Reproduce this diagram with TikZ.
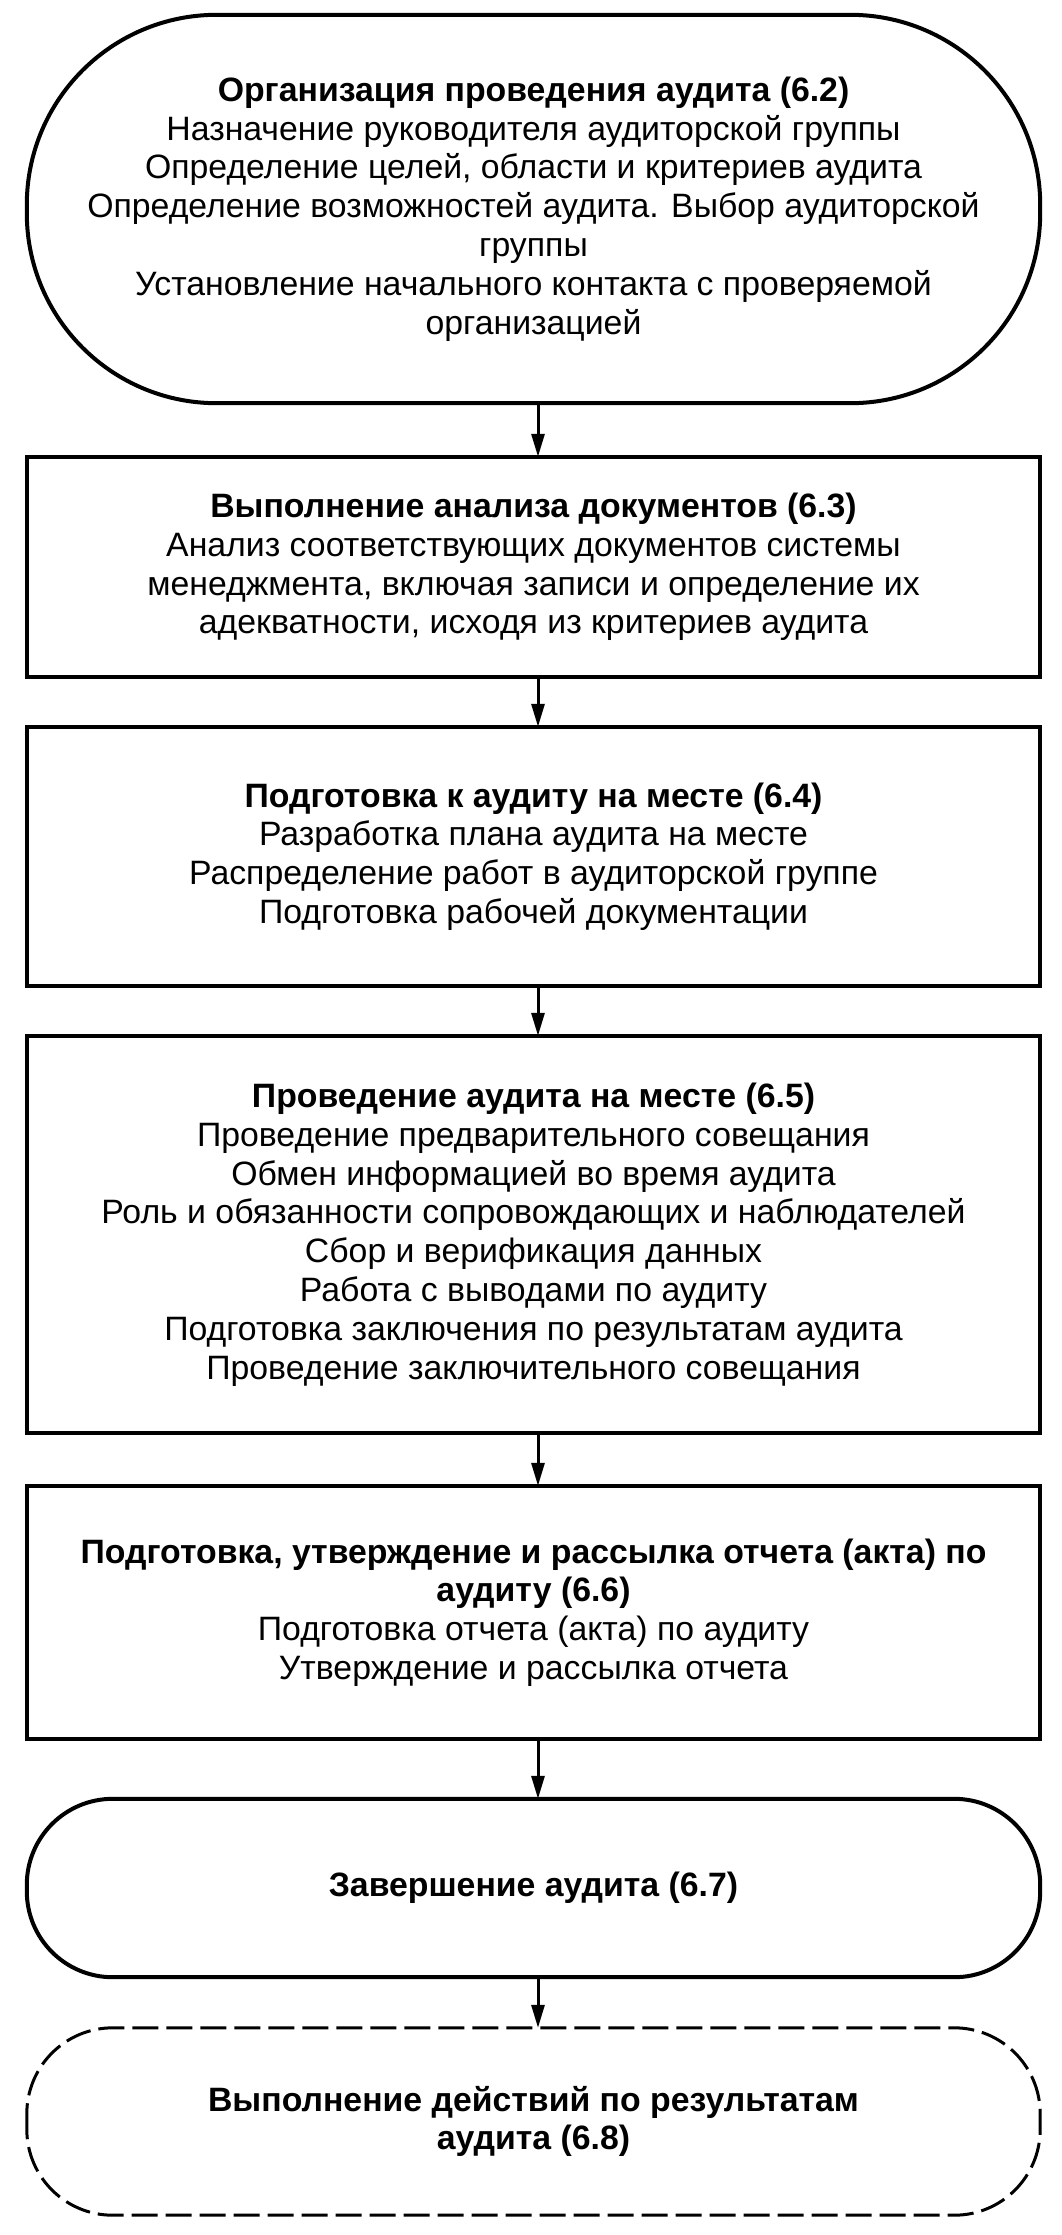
\documentclass[tikz,border=0pt]{standalone}
\usepackage{fontspec}
\setmainfont{Liberation Sans}
\usetikzlibrary{arrows.meta}
\begin{document}
\begin{tikzpicture}[x=1pt,y=1pt,
  txt/.style={rectangle, inner sep=0pt, minimum width=1013pt, align=center,
    font=\fontsize{33.8}{38.8}\selectfont},
  boxline/.style={line width=4.5pt},
  stadline/.style={line width=4pt},
  dashline/.style={line width=3pt, dash pattern=on 26pt off 8pt},
  arr/.style={line width=3pt, -{Triangle[length=23pt,width=13pt]}}
]
\useasboundingbox (0,0) rectangle (1062,-2235);

\node[txt, minimum height=388pt] (n1) at (533.5,-209) {%
\textbf{Организация проведения аудита (6.2)}\\
Назначение руководителя аудиторской группы\\
Определение целей, области и критериев аудита\\
Определение возможностей аудита. Выбор аудиторской\\
группы\\
Установление начального контакта с проверяемой\\
организацией};
\draw[stadline, rounded corners=190pt] (n1.south west) rectangle (n1.north east);

\node[txt, minimum height=220pt] (n2) at (533.5,-567) {%
\textbf{Выполнение анализа документов (6.3)}\\
Анализ соответствующих документов системы\\
менеджмента, включая записи и определение их\\
адекватности, исходя из критериев аудита};
\draw[boxline] (n2.south west) rectangle (n2.north east);

\node[txt, minimum height=259pt] (n3) at (533.5,-856.5) {%
\textbf{Подготовка к аудиту на месте (6.4)}\\
Разработка плана аудита на месте\\
Распределение работ в аудиторской группе\\
Подготовка рабочей документации};
\draw[boxline] (n3.south west) rectangle (n3.north east);

\node[txt, minimum height=397pt] (n4) at (533.5,-1234.5) {%
\textbf{Проведение аудита на месте (6.5)}\\
Проведение предварительного совещания\\
Обмен информацией во время аудита\\
Роль и обязанности сопровождающих и наблюдателей\\
Сбор и верификация данных\\
Работа с выводами по аудиту\\
Подготовка заключения по результатам аудита\\
Проведение заключительного совещания};
\draw[boxline] (n4.south west) rectangle (n4.north east);

\node[txt, minimum height=253pt] (n5) at (533.5,-1612.5) {%
\textbf{Подготовка, утверждение и рассылка отчета (акта) по}\\
\textbf{аудиту (6.6)}\\
Подготовка отчета (акта) по аудиту\\
Утверждение и рассылка отчета};
\draw[boxline] (n5.south west) rectangle (n5.north east);

\node[txt, minimum height=178pt] (n6) at (533.5,-1888) {%
\textbf{Завершение аудита (6.7)}};
\draw[stadline, rounded corners=86pt] (n6.south west) rectangle (n6.north east);

\node[txt, minimum height=187pt] (n7) at (533.5,-2121.5) {%
\textbf{Выполнение действий по результатам}\\
\textbf{аудита (6.8)}};
\draw[dashline, rounded corners=86pt] (n7.south west) rectangle (n7.north east);

\foreach \a/\b in {n1/n2,n2/n3,n3/n4,n4/n5,n5/n6,n6/n7}
  \draw[arr] ([xshift=4.5pt]\a.south) -- ([xshift=4.5pt]\b.north);
\end{tikzpicture}
\end{document}
